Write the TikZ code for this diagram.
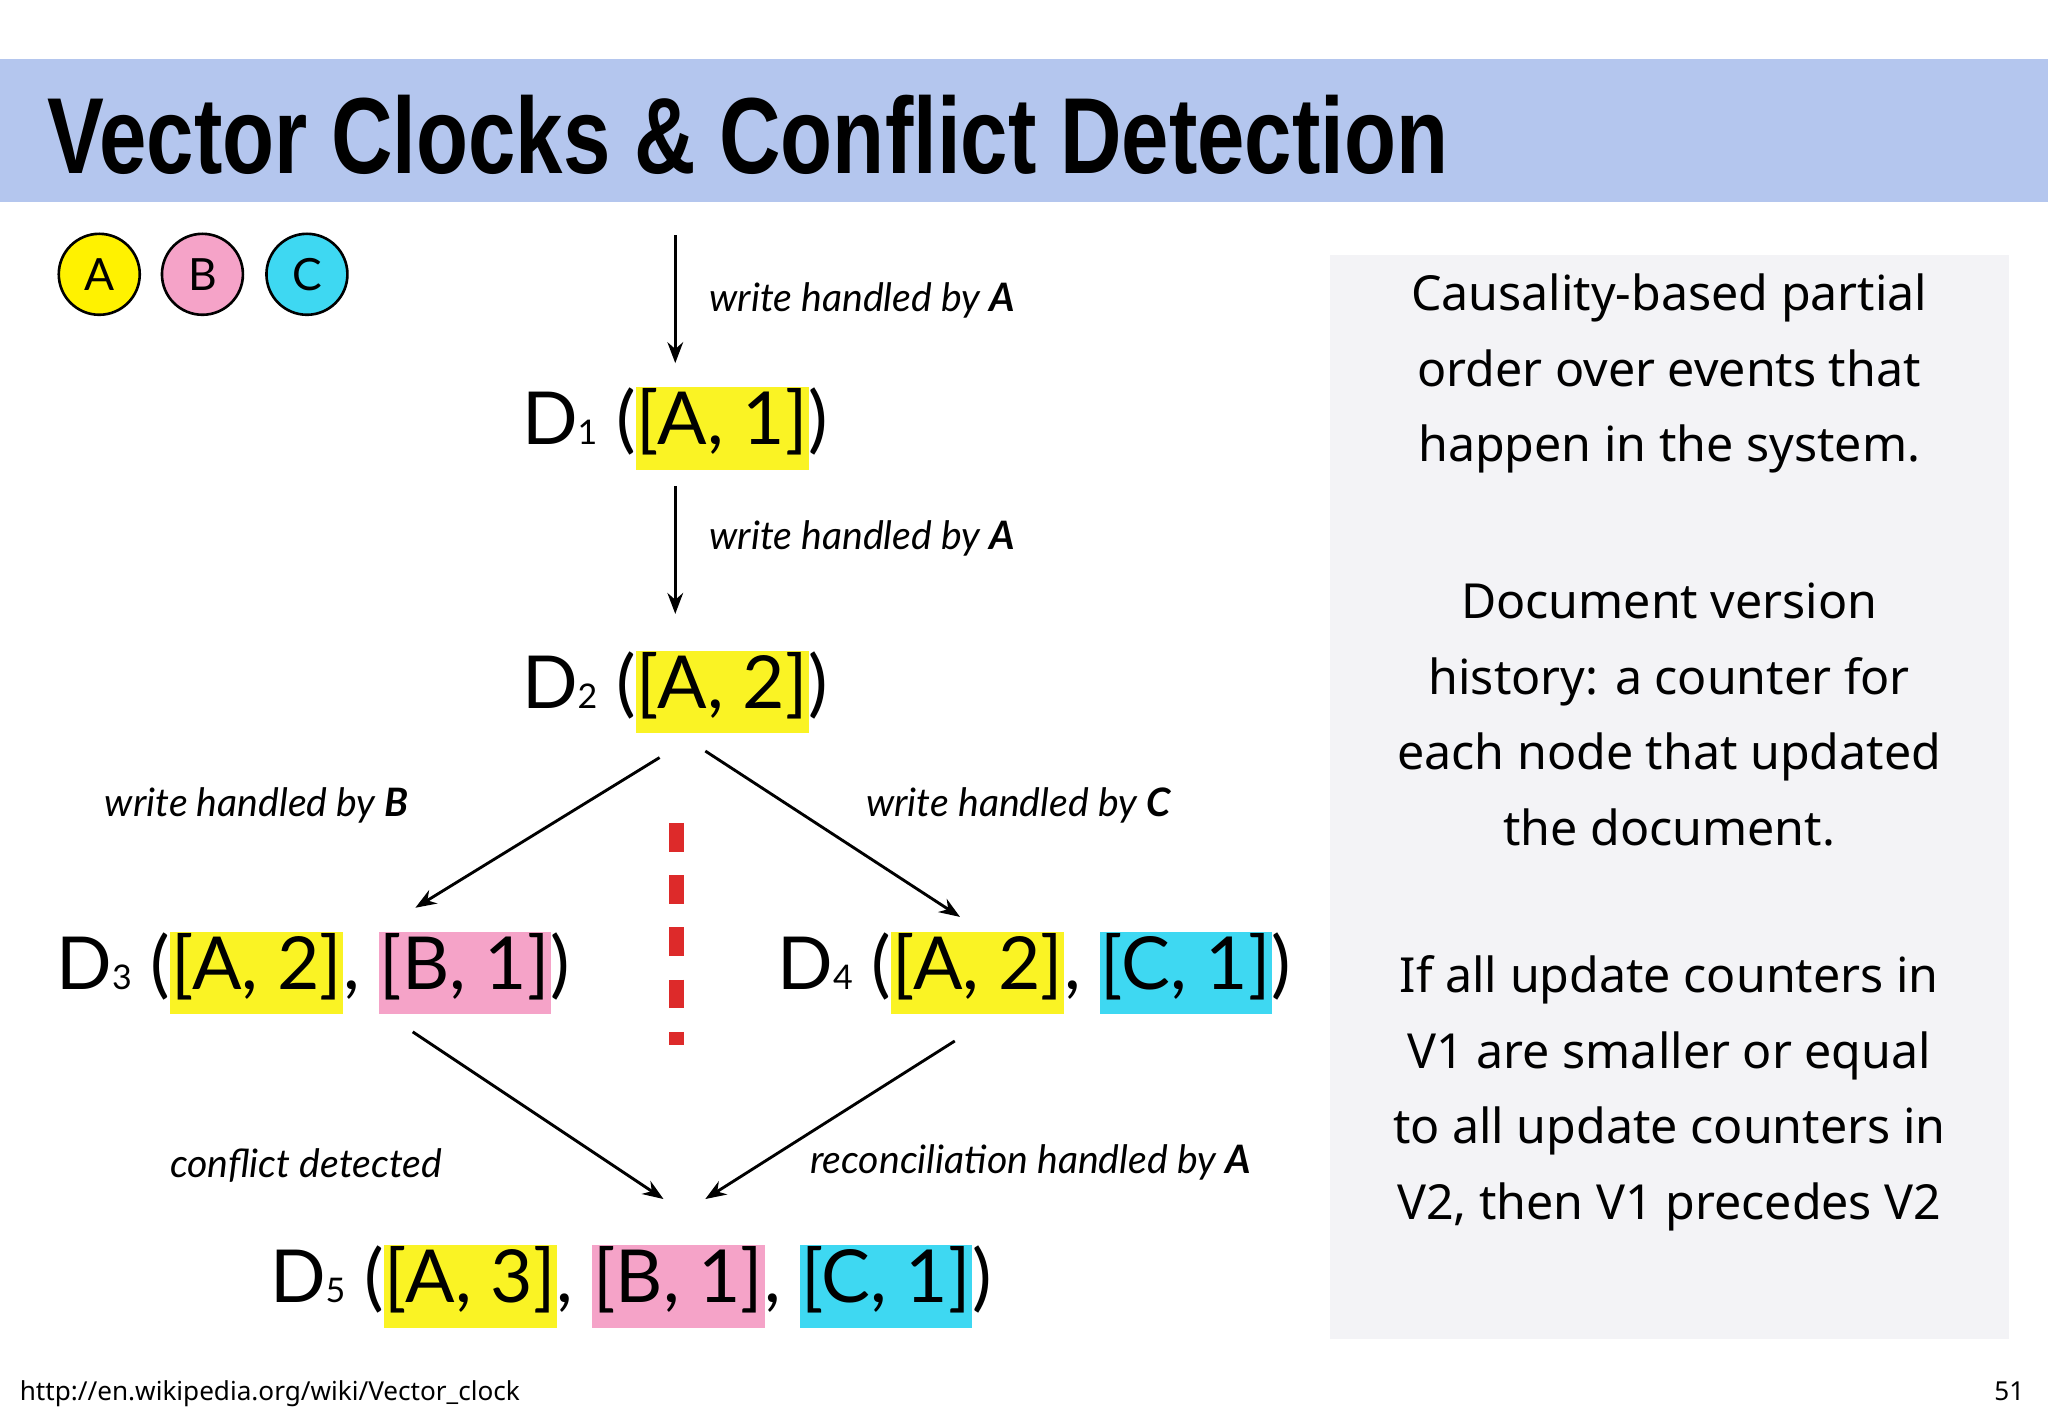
\documentclass[tikz,border=0pt]{standalone}
\usepackage{fontspec}
\setmainfont{Lato}
\newfontfamily\rfont{Noto Sans}
\newfontfamily\tfont{Liberation Sans}
\usetikzlibrary{arrows.meta}
\definecolor{band}{HTML}{B4C6EE}
\definecolor{panel}{HTML}{F3F3F6}
\definecolor{hly}{HTML}{FAF324}
\definecolor{hlp}{HTML}{F5A3C8}
\definecolor{hlc}{HTML}{3ED8F2}
\definecolor{dred}{HTML}{DD2A2A}
\newcommand\HL[2]{{\setlength{\fboxsep}{1pt}\colorbox{#1}{\strut #2}}}
\newcommand\sub[1]{{\fontsize{26}{26}\selectfont #1}}
\tikzset{
 circ/.style={circle,draw=black,line width=2pt,minimum size=62pt,inner sep=0pt,font=\fontsize{34}{34}\selectfont},
 arr/.style={-{Stealth[length=16pt,width=12pt]},line width=2.2pt},
 lab/.style={font=\fontsize{30}{30}\selectfont\itshape,anchor=west,inner sep=0pt},
 dv/.style={font=\fontsize{56}{60}\selectfont,inner sep=0pt},
 rt/.style={font=\rfont\fontsize{37}{58}\selectfont,align=center,inner sep=0pt}
}
\begin{document}
\begin{tikzpicture}[x=1pt,y=-1pt]
\useasboundingbox (0,0) rectangle (1568,1085);
\fill[white] (0,0) rectangle (1568,1085);
\fill[band] (0,45) rectangle (1568,155);
\node[anchor=base west,inner sep=0pt] (title) at (36,133) {\resizebox{1072pt}{60pt}{\tfont\bfseries Vector Clocks \& Conflict Detection}};
\fill[panel] (1018,195) rectangle (1538,1025);
\node[circ,fill=yellow] (ca) at (76,210) {A};
\node[circ,fill=hlp] (cb) at (155,210) {B};
\node[circ,fill=hlc] (cc) at (235,210) {C};
\coordinate (top) at (517,180);
\node[dv] (d1) at (517,328) {D\sub{1} (\HL{hly}{[A, 1]})};
\node[dv] (d2) at (517,530) {D\sub{2} (\HL{hly}{[A, 2]})};
\node[dv] (d3) at (240,745) {D\sub{3} (\HL{hly}{[A, 2]}, \HL{hlp}{[B, 1]})};
\node[dv] (d4) at (792,745) {D\sub{4} (\HL{hly}{[A, 2]}, \HL{hlc}{[C, 1]})};
\node[dv] (d5) at (483,985) {D\sub{5} (\HL{hly}{[A, 3]}, \HL{hlp}{[B, 1]}, \HL{hlc}{[C, 1]})};
\draw[arr] (top) -- (517,278);
\draw[arr] (517,372) -- (517,470);
\draw[arr] (505,580) -- (318,695);
\draw[arr] (540,575) -- (735,702);
\draw[arr] (316,790) -- (508,918);
\draw[arr] (731,797) -- (540,918);
\node[lab] (l1) at (543,230) {write handled by \textbf{A}};
\node[lab] (l2) at (543,412) {write handled by \textbf{A}};
\node[lab] (l3) at (80,617) {write handled by \textbf{B}};
\node[lab] (l4) at (663,617) {write handled by \textbf{C}};
\node[lab] (l5) at (130,892) {conflict detected};
\node[lab] (l6) at (620,890) {reconciliation handled by \textbf{A}};
\draw[dred,line width=11pt,dash pattern=on 22pt off 18pt] (518,630) -- (518,800);
\node[rt] (r1) at (1278,286) {Causality-based partial\\order over events that\\happen in the system.};
\node[rt] (r2) at (1278,547) {Document version\\history: a counter for\\each node that updated\\the document.};
\node[rt] (r3) at (1278,837) {If all update counters in\\V1 are smaller or equal\\to all update counters in\\V2, then V1 precedes V2};
\node[anchor=west,inner sep=0pt,font=\rfont\fontsize{20}{20}\selectfont] (url) at (15,1067) {http://en.wikipedia.org/wiki/Vector\_clock};
\node[anchor=east,inner sep=0pt,font=\rfont\fontsize{20}{20}\selectfont] (pg) at (1550,1065) {51};
\end{tikzpicture}
\end{document}
